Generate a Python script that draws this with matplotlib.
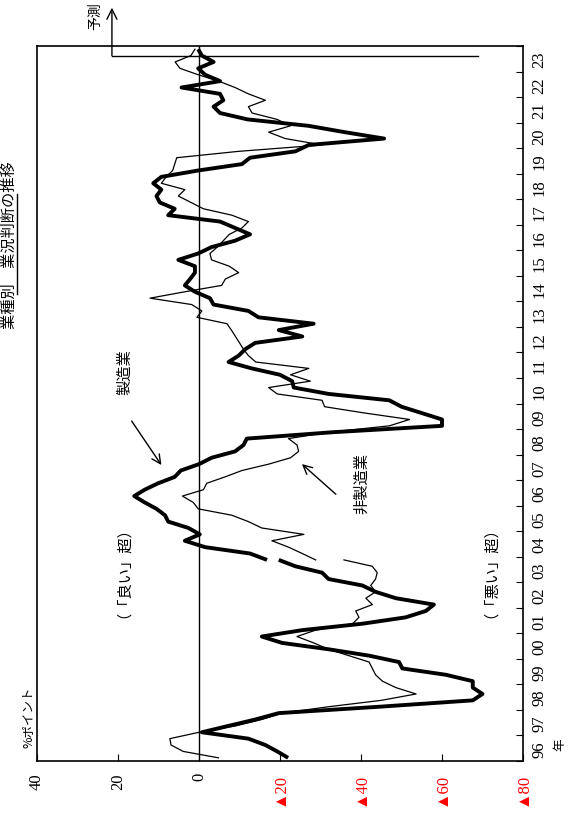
import matplotlib
matplotlib.use('Agg')
import numpy as np
from matplotlib import pyplot as plt

plt.rcParams['font.family'] = ['Noto Sans CJK JP', 'DejaVu Sans']

# quarterly DI, 1996Q1 onward; survey revised at 2003Q4 (both bases have that quarter)
mfg_old = [-22, -19.3, -16.4, -12.2, -0.7, -7.3, -13.9, -19.7, -44.5, -67.6,
           -70, -67.6, -67.6, -61, -50.2, -49.4, -42, -32, -20.5, -15.5,
           -25.5, -40.3, -51, -56, -58, -48.6, -43.6, -40.3, -32, -30.4,
           -23.8, -19.7]
mfg_new = [-16.8, -12.6, -1.5, 3.5, -0.2, 2.6, 7.6, 8.4, 10.5, 13.4,
           16.0, 13.4, 10.1, 6.0, 4.5, 0, -3.1, -8.9, -11, -11.8,
           -33, -60, -60, -55, -50, -47, -32, -23.4, -23, -20,
           -13, -7.3, -9.8, -11.4, -13.9, -25.5, -19.7, -28.3, -14.7, -12.2,
           -3.6, -2.7, 1, 3.5, 2.2, 1.0, 1.0, 5.1, 0.2, -3.1,
           -8.9, -12.6, -8.9, -5.2, 7.6, 6, 9.7, 10.5, 9.3, 11.3,
           9.3, 0.2, -10.6, -12.6, -23.8, -27.1, -45.7, -36, -27, -12,
           -5.2, -3.6, -6, -5.2, 4.3, -5.2, -1.5, 0.2, -3.6, -0.7,
           0.2]
non_old = [-4.8, 3.9, 6.9, 7.2, 0, -9, -15.5, -20.5, -32, -45,
           -53.6, -48.6, -45.3, -43.6, -42.8, -42, -37, -32, -28.3, -24.2,
           -28.8, -37.9, -39.5, -38.7, -42.8, -41.2, -43.6, -42.4, -43.6, -44,
           -42.8, -35.8]
non_new = [-28.8, -25.5, -22.1, -18, -25.9, -15.5, -12.2, -8.1, 0.2, 1.4,
           4.1, -1.1, -1.9, -6.4, -10.6, -17.2, -22.6, -24.6, -24.2, -22.1,
           -32, -47, -52, -41, -31, -30.4, -19.3, -17.2, -27.5, -22.6,
           -27.1, -14, -12.2, -11, -10, -9, -8, -6.9, 0.5, -0.7,
           1.8, 12.1, 3.5, -5.6, -6.5, -9.8, -7.5, -3.1, -2.7, -4.5,
           -6, -7.5, -10.6, -12.2, -8.1, -1.1, 2, 5.1, 3.5, 9.3,
           8.1, 6.5, 6.0, 5.5, -9.8, -30.4, -21.3, -17.2, -22.6, -19.3,
           -13.1, -12.2, -16.4, -12.2, -8.9, -4.8, 0.2, 4.7, 5.9, 2.0,
           1.0]

years = ['96', '97', '98', '99', '00', '01', '02', '03', '04', '05', '06', '07',
         '08', '09', '10', '11', '12', '13', '14', '15', '16', '17', '18', '19',
         '20', '21', '22', '23']
xticks = [40, 20, 0, -20, -40, -60, -80]
xlabels = ['40', '20', '0', '▲20', '▲40', '▲60', '▲80']

q_old = np.arange(len(mfg_old)) + 0.5
q_new = np.arange(len(mfg_new)) + len(mfg_old) - 1 + 0.5
nq = len(years) * 4
forecast_q = q_new[-1] - 1

fig = plt.figure(figsize=(5.73, 8.20), dpi=100)
ax = fig.add_axes([37 / 573, 58 / 820, 486 / 573, 715 / 820])

ax.axvline(0, color='black', lw=1.0)
ax.plot(non_old, q_old, color='black', lw=0.9)
ax.plot(non_new, q_new, color='black', lw=0.9)
ax.plot(mfg_old, q_old, color='black', lw=2.8, solid_capstyle='butt')
ax.plot(mfg_new, q_new, color='black', lw=2.8, solid_capstyle='butt')

ax.set_xlim(40, -80)
ax.set_ylim(0, nq)

ax.set_xticks(xticks)
ax.set_xticklabels(xlabels, rotation=90, family='Liberation Serif', fontsize=12)
for lab, v in zip(ax.get_xticklabels(), xticks):
    if v < 0:
        lab.set_color('red')
ax.tick_params(axis='x', direction='in', length=5, pad=8)

ax.yaxis.tick_right()
ax.set_yticks(np.arange(0, nq + 1, 4))
ax.set_yticklabels([])
ax.set_yticks(np.arange(2, nq, 4), minor=True)
ax.set_yticklabels(years, minor=True, rotation=90, family='Liberation Serif',
                   fontsize=12, va='center')
ax.tick_params(axis='y', which='major', direction='in', length=5)
ax.tick_params(axis='y', which='minor', length=0, pad=6)
for s in ax.spines.values():
    s.set_linewidth(1.2)

# forecast marker
ax.plot([21.5, -69], [forecast_q, forecast_q], color='black', lw=1.0, clip_on=False)
ax.annotate('', xy=(21.5, nq + 6), xytext=(21.5, forecast_q),
            arrowprops=dict(arrowstyle='->', color='black', lw=1.0,
                            mutation_scale=18, shrinkA=0, shrinkB=0),
            annotation_clip=False)
fig.text(95 / 573, 1 - 16 / 820, '予測', rotation=90, fontsize=10,
         ha='center', va='center')

# labels
ax.annotate('', xy=(8.9, 46.0), xytext=(17.0, 53.6),
            arrowprops=dict(arrowstyle='->', color='black', lw=1.0, mutation_scale=16))
ax.text(18.3, 61.1, '製造業', rotation=90, fontsize=11, ha='center', va='center')
ax.annotate('', xy=(-24.9, 46.8), xytext=(-34.3, 41.5),
            arrowprops=dict(arrowstyle='->', color='black', lw=1.0, mutation_scale=16))
ax.text(-40.2, 43.7, '非製造業', rotation=90, fontsize=11, ha='center', va='center')
ax.text(20.7, 30.9, '（「良い」超）', rotation=90, fontsize=11, ha='center', va='center')
ax.text(-69.9, 30.9, '（「悪い」超）', rotation=90, fontsize=11, ha='center', va='center')

fig.text(28 / 573, 1 - 717 / 820, '%ポイント', rotation=90, fontsize=9,
         ha='center', va='center')
fig.text(560 / 573, 1 - 745 / 820, '年', rotation=90, fontsize=9,
         ha='center', va='center')

# title at the left edge
fig.text(9 / 573, 1 - 245 / 820, '業種別　業況判断の推移', rotation=90, fontsize=11,
         ha='center', va='center')
fig.add_artist(plt.Line2D([17 / 573, 17 / 573], [1 - 295 / 820, 1 - 195 / 820],
                          transform=fig.transFigure, color='black', lw=1.0))

fig.savefig('out.png', dpi=100)
